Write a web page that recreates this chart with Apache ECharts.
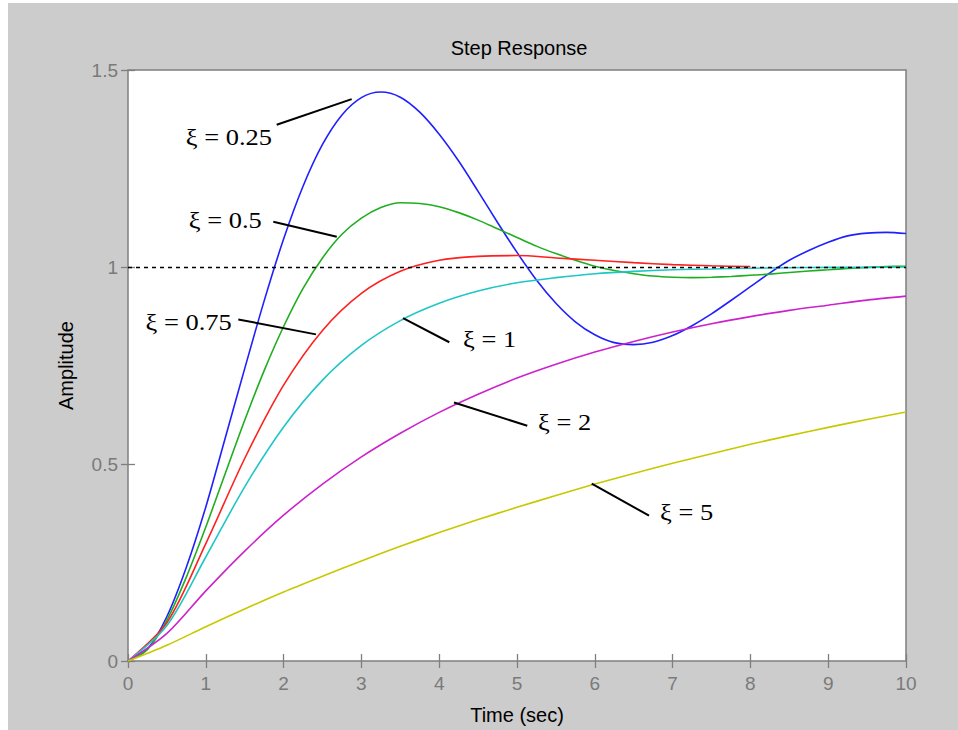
<!DOCTYPE html>
<html>
<head>
<meta charset="utf-8">
<script src="https://cdn.jsdelivr.net/npm/echarts@6/dist/echarts.min.js"></script>
<style>
  html, body { margin: 0; padding: 0; background: #ffffff; }
  #chart { position: absolute; left: 8px; top: 3px; width: 950px; height: 727px; }
</style>
</head>
<body>
<div id="chart"></div>
<script>
// Sample times (sec): fine grid for the oscillating responses, coarse grid for the rest
const timeFine = [0, 0.25, 0.5, 0.75, 1, 1.25, 1.5, 1.75, 2, 2.25, 2.5, 2.75, 3, 3.25, 3.5, 3.75, 4, 4.25, 4.5, 4.75,
                  5, 5.25, 5.5, 5.75, 6, 6.25, 6.5, 6.75, 7, 7.25, 7.5, 7.75, 8, 8.25, 8.5, 8.75, 9, 9.25, 9.5, 9.75, 10];
const time = [0, 0.5, 1, 1.5, 2, 2.5, 3, 3.5, 4, 4.5, 5, 5.5, 6, 6.5, 7, 7.5, 8, 8.5, 9, 9.5, 10];

// Step response amplitude for each damping ratio
const zeta025 = [0, 0.030, 0.113, 0.238, 0.391, 0.566, 0.742, 0.914, 1.071, 1.205, 1.311, 1.386, 1.430, 1.444, 1.431, 1.393,
                 1.337, 1.269, 1.192, 1.113, 1.037, 0.967, 0.908, 0.861, 0.828, 0.808, 0.803, 0.809, 0.826, 0.851, 0.881,
                 0.915, 0.950, 0.985, 1.017, 1.042, 1.063, 1.079, 1.086, 1.088, 1.085];
const zeta05  = [0, 0.029, 0.104, 0.213, 0.340, 0.476, 0.611, 0.737, 0.849, 0.946, 1.023, 1.083, 1.124, 1.151, 1.163, 1.161,
                 1.153, 1.138, 1.119, 1.097, 1.075, 1.053, 1.034, 1.017, 1.002, 0.991, 0.983, 0.977, 0.974, 0.973, 0.974,
                 0.976, 0.979, 0.982, 0.986, 0.990, 0.993, 0.996, 0.999, 1.001, 1.002];
const zeta075 = [0, 0.097, 0.298, 0.514, 0.700, 0.839, 0.933, 0.989, 1.017, 1.027, 1.029, 1.023, 1.017, 1.011, 1.006, 1.003, 1.001];
const zeta1   = [0, 0.090, 0.264, 0.442, 0.594, 0.713, 0.801, 0.864, 0.908, 0.939, 0.960, 0.973, 0.983, 0.989, 0.993, 0.995, 0.997, 0.998, 0.999, 0.999, 1.000];
const zeta2   = [0, 0.070, 0.178, 0.279, 0.370, 0.449, 0.518, 0.578, 0.631, 0.677, 0.718, 0.753, 0.784, 0.811, 0.835, 0.856, 0.874, 0.890, 0.903, 0.916, 0.926];
const zeta5   = [0, 0.040, 0.087, 0.132, 0.175, 0.215, 0.254, 0.291, 0.326, 0.359, 0.390, 0.420, 0.449, 0.476, 0.502, 0.526, 0.550, 0.572, 0.593, 0.613, 0.632];

// Axis ticks
const xTicks = [0, 1, 2, 3, 4, 5, 6, 7, 8, 9, 10];
const yTicks = [0, 0.5, 1, 1.5];

// Final value reference
const steadyState = 1;

// Curve labels: text, where the leader line touches the curve, where it starts, where the text sits
const labelText = ['ξ = 0.25', 'ξ = 0.5', 'ξ = 0.75', 'ξ = 1', 'ξ = 2', 'ξ = 5'];
const labelTip  = [[2.875, 1.426], [2.683, 1.077], [2.416, 0.829], [3.535, 0.870], [4.190, 0.656], [5.960, 0.450]];
const labelTail = [[1.911, 1.361], [1.868, 1.115], [1.418, 0.867], [4.130, 0.809], [5.132, 0.597], [6.697, 0.369]];
const labelAt   = [[1.851, 1.330], [1.719, 1.120], [1.333, 0.859], [4.306, 0.816], [5.270, 0.606], [6.838, 0.379]];
const labelSide = ['right', 'right', 'right', 'left', 'left', 'left'];

const curves = [
  { name: 'ξ = 0.25', t: timeFine, values: zeta025, color: '#2020ff' },
  { name: 'ξ = 0.5',  t: timeFine, values: zeta05,  color: '#1fae1f' },
  { name: 'ξ = 0.75', t: time,     values: zeta075, color: '#ff2020' },
  { name: 'ξ = 1',    t: time,     values: zeta1,   color: '#1fc6c6' },
  { name: 'ξ = 2',    t: time,     values: zeta2,   color: '#cc22cc' },
  { name: 'ξ = 5',    t: time,     values: zeta5,   color: '#c8c800' }
];

const chart = echarts.init(document.getElementById('chart'), null, { renderer: 'svg' });

const frame = '#7f7f7f';
const sans = 'Liberation Sans, Arial, sans-serif';
const tickFont = { color: '#7a7a7a', fontSize: 19, fontFamily: sans };

const series = curves.map((c, i) => ({
  name: c.name,
  type: 'line',
  data: c.values.map((v, k) => [c.t[k], v]),
  smooth: 0.3,
  showSymbol: false,
  symbol: 'none',
  lineStyle: { color: c.color, width: 1.6 },
  itemStyle: { color: c.color },
  z: 3,
  silent: true,
  markLine: i === 0 ? {
    silent: true,
    symbol: 'none',
    label: { show: false },
    lineStyle: { color: '#000', type: [4, 4], width: 1.3 },
    data: [{ yAxis: steadyState }]
  } : undefined
}));

chart.setOption({
  backgroundColor: '#cccccc',
  animation: false,
  title: {
    text: 'Step Response',
    left: 506,
    top: 30,
    textAlign: 'center',
    textStyle: { color: '#000', fontSize: 20, fontWeight: 'normal', fontFamily: sans }
  },
  grid: {
    left: 120, right: 52, top: 67, bottom: 68,
    show: true, backgroundColor: '#ffffff', borderColor: frame, borderWidth: 1.5
  },
  xAxis: [
    {
      type: 'value', min: xTicks[0], max: xTicks[xTicks.length - 1], interval: 1,
      name: 'Time (sec)', nameLocation: 'middle', nameGap: 44,
      nameTextStyle: { color: '#000', fontSize: 20, fontFamily: sans },
      axisLine: { show: false },
      axisTick: { show: true, inside: true, length: 7, lineStyle: { color: frame, width: 1.3 } },
      axisLabel: Object.assign({ margin: 13, formatter: v => String(v) }, tickFont),
      splitLine: { show: false }
    },
    {
      type: 'value', position: 'top', min: xTicks[0], max: xTicks[xTicks.length - 1], interval: 1,
      axisLine: { show: false },
      axisTick: { show: true, inside: true, length: 7, lineStyle: { color: frame, width: 1.3 } },
      axisLabel: { show: false },
      splitLine: { show: false }
    }
  ],
  yAxis: [
    {
      type: 'value', min: yTicks[0], max: yTicks[yTicks.length - 1], interval: 0.5,
      name: 'Amplitude', nameLocation: 'middle', nameGap: 52,
      nameTextStyle: { color: '#000', fontSize: 20, fontFamily: sans },
      axisLine: { show: false },
      axisTick: { show: true, inside: true, length: 7, lineStyle: { color: frame, width: 1.3 } },
      axisLabel: Object.assign({ margin: 10, formatter: v => String(v) }, tickFont),
      splitLine: { show: false }
    },
    {
      type: 'value', position: 'right', min: yTicks[0], max: yTicks[yTicks.length - 1], interval: 0.5,
      axisLine: { show: false },
      axisTick: { show: true, inside: true, length: 7, lineStyle: { color: frame, width: 1.3 } },
      axisLabel: { show: false },
      splitLine: { show: false }
    }
  ],
  series: series
});

// Leader lines and damping-ratio labels, placed through the grid's coordinate system
const toPx = p => chart.convertToPixel({ gridIndex: 0 }, p);
const graphics = [];
labelText.forEach((txt, i) => {
  const a = toPx(labelTip[i]);
  const b = toPx(labelTail[i]);
  const t = toPx(labelAt[i]);
  graphics.push({
    type: 'line', z: 100, silent: true,
    shape: { x1: b[0], y1: b[1], x2: a[0], y2: a[1] },
    style: { stroke: '#000', lineWidth: 2 }
  });
  graphics.push({
    type: 'text', z: 100, silent: true,
    x: t[0], y: t[1], scaleX: 1.15,
    style: {
      text: txt, x: 0, y: 0,
      align: labelSide[i], verticalAlign: 'middle',
      fontSize: 23, fontFamily: 'Liberation Serif, Times New Roman, serif', fill: '#000'
    }
  });
});
chart.setOption({ graphic: graphics });
</script>
</body>
</html>
